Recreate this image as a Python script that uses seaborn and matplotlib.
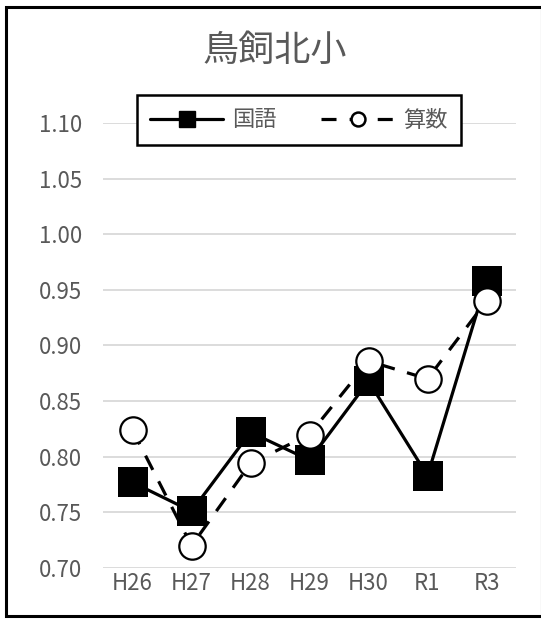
import pandas as pd
import numpy as np
import matplotlib
matplotlib.use('Agg')
import matplotlib.pyplot as plt
import seaborn as sns
from matplotlib.lines import Line2D
from matplotlib.patches import Rectangle

years = ['H26', 'H27', 'H28', 'H29', 'H30', 'R1', 'R3']
kokugo = [0.777, 0.751, 0.822, 0.797, 0.868, 0.783, 0.958]
sansu = [0.824, 0.720, 0.794, 0.820, 0.886, 0.870, 0.940]
yticks = [0.70, 0.75, 0.80, 0.85, 0.90, 0.95, 1.00, 1.05, 1.10]
title = '鳥飼北小'

sns.set_style('white')
plt.rcParams['font.family'] = ['Noto Sans CJK JP', 'DejaVu Sans']

grey = '#595959'
df = pd.DataFrame({'year': years, '国語': kokugo, '算数': sansu})

fig = plt.figure(figsize=(5.41, 6.19), dpi=100)
ax = fig.add_axes([103 / 541, 1 - 568 / 619, 413 / 541, 445 / 619])

sns.lineplot(data=df, x='year', y='国語', ax=ax, color='black', lw=2.3,
             marker='s', markersize=21, markeredgewidth=0, zorder=3)
sns.lineplot(data=df, x='year', y='算数', ax=ax, color='black', lw=2.3,
             marker='o', markersize=19, markerfacecolor='white',
             markeredgecolor='black', markeredgewidth=1.6, zorder=4)
ax.lines[1].set_dashes([5, 4])

ax.set_xlim(-0.5, len(years) - 0.5)
ax.set_ylim(0.70, 1.10)
ax.set_yticks(yticks)
ax.set_yticklabels([f'{v:.2f}' for v in yticks])
ax.yaxis.grid(True, color='#d9d9d9', lw=1.3, zorder=0)
ax.xaxis.grid(False)
for s in ax.spines.values():
    s.set_visible(False)
ax.tick_params(axis='y', labelsize=16, colors=grey, length=0, pad=15)
ax.tick_params(axis='x', labelsize=16, colors=grey, length=0, pad=3)
ax.set_xlabel('')
ax.set_ylabel('')

fig.text(275 / 541, 1 - 51 / 619, title, ha='center', va='center',
         fontsize=26, color=grey)

handles = [
    Line2D([], [], color='black', lw=2.3, marker='s', markersize=12),
    Line2D([], [], color='black', lw=2.3, ls=(0, (4.7, 4.1)), marker='o', markersize=10,
           markerfacecolor='white', markeredgewidth=1.8),
]
leg = ax.legend(handles, ['国語', '算数'], ncol=2, loc='center',
                bbox_to_anchor=(299 / 541, 1 - 120 / 619), bbox_transform=fig.transFigure,
                frameon=True, fancybox=False, edgecolor='black', framealpha=1,
                fontsize=16, handlelength=3.3, columnspacing=2.0, handletextpad=0.4,
                borderpad=0.6)
leg.get_frame().set_linewidth(1.8)
for t in leg.get_texts():
    t.set_color(grey)

fig.patches.append(Rectangle((6 / 541, 3 / 619), 0.99, 1 - 10 / 619, transform=fig.transFigure,
                             fill=False, edgecolor='black', lw=2.2))

fig.savefig('out.png', dpi=100)
